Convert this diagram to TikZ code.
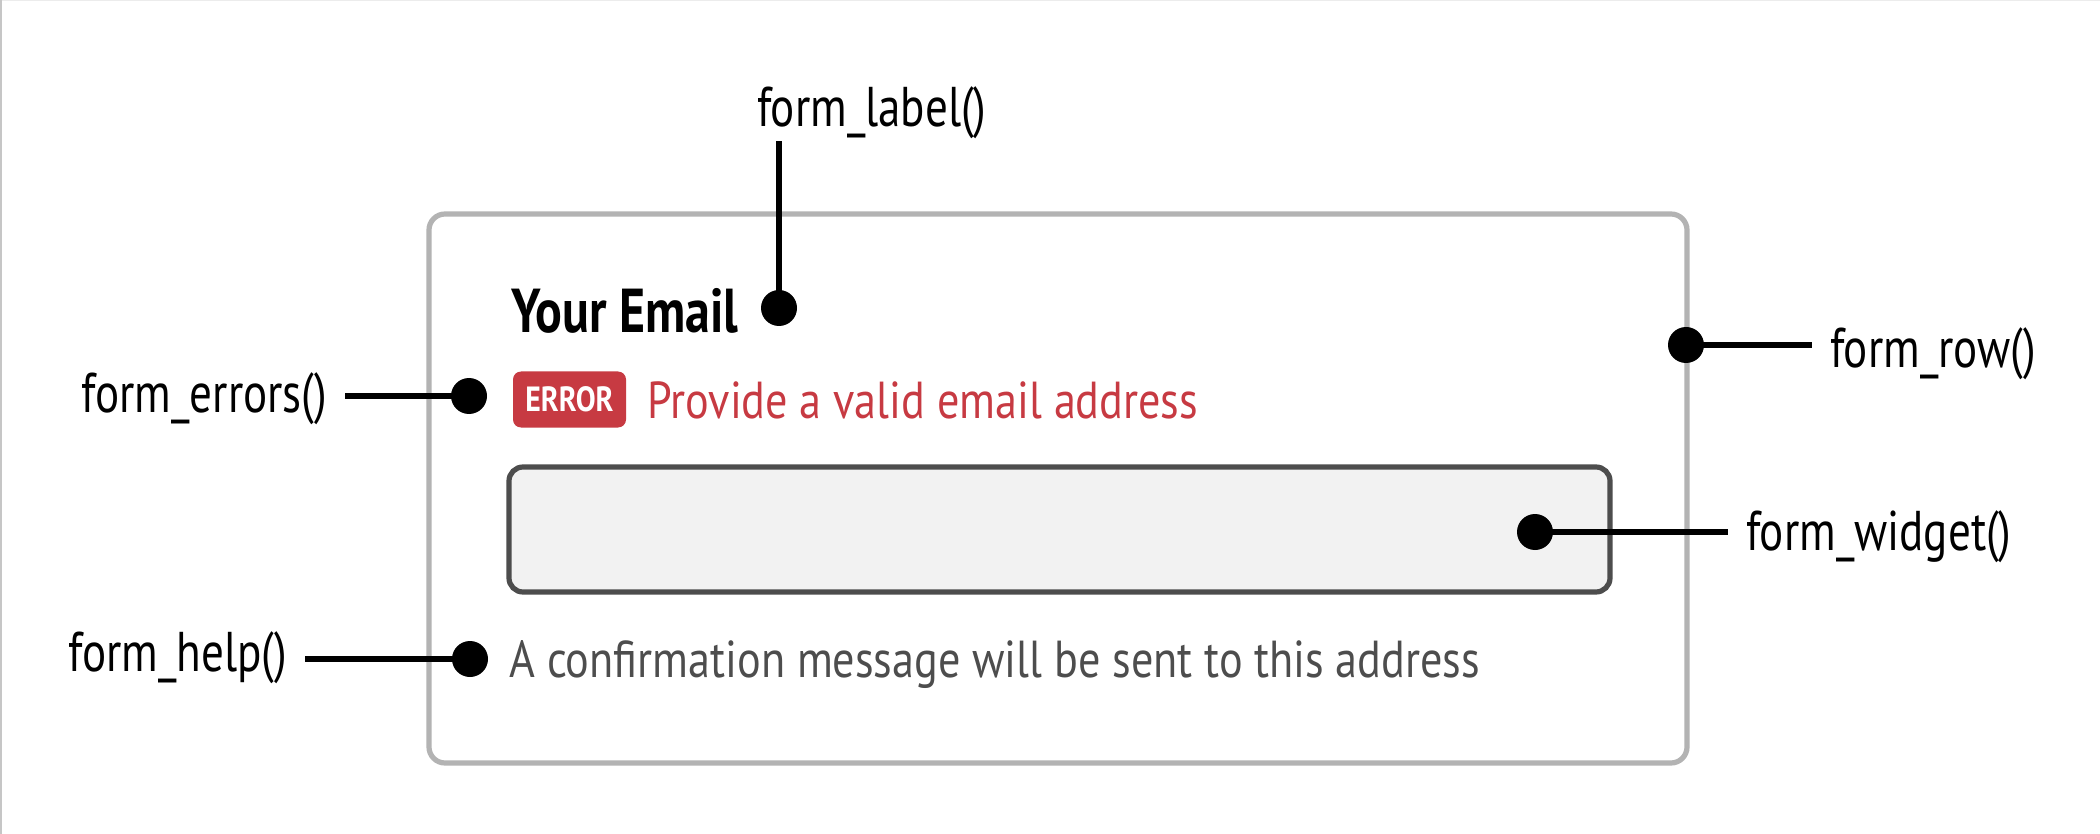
\documentclass[tikz,border=0pt]{standalone}
\usepackage{fontspec}
\setmainfont{PT Sans}[FakeStretch=0.805]
\newfontfamily\bodyfont{PT Sans}[FakeStretch=0.85]
\definecolor{boxgray}{HTML}{B3B3B3}
\definecolor{widgetedge}{HTML}{4D4D4D}
\definecolor{widgetfill}{HTML}{F2F2F2}
\definecolor{errred}{HTML}{C73A42}
\definecolor{helpgray}{HTML}{4D4D4D}
\begin{document}
\begin{tikzpicture}[x=0.5pt,y=-0.5pt,
  dotnode/.style={circle,fill=black,inner sep=0pt,minimum size=18pt},
  conn/.style={line width=2.7pt,black},
  apilabel/.style={font=\fontsize{28}{30}\selectfont,inner sep=0pt,outer xsep=9pt,outer ysep=1pt},
  formtext/.style={inner sep=0pt}]
\useasboundingbox (0,0) rectangle (2100,834);
\fill[white] (0,0) rectangle (2100,834);
\draw[gray!15,line width=1pt] (0,0.5) -- (2100,0.5);
\draw[gray!45,line width=1pt] (0.8,0) -- (0.8,834);
% outer row box
\draw[boxgray,line width=2.6pt,rounded corners=8pt] (429,214) rectangle (1687,763);
% widget box
\draw[widgetedge,fill=widgetfill,line width=2.6pt,rounded corners=7pt] (509,467) rectangle (1610,592);
% form texts
\node[formtext,anchor=base west,font=\bfseries\fontsize{31}{34}\selectfont] (yourmail) at (511,333) {Your Email};
\node[fill=errred,rounded corners=4pt,minimum width=56.5pt,minimum height=28pt,inner sep=0pt,text=white,font=\bodyfont\bfseries\fontsize{17.5}{19}\selectfont] (badge) at (569.5,399.5) {ERROR};
\node[formtext,anchor=base west,text=errred,font=\bodyfont\fontsize{26}{28}\selectfont] (errtext) at (647,418) {Provide a valid email address};
\node[formtext,anchor=base west,text=helpgray,font=\bodyfont\fontsize{26}{28}\selectfont] (helptext) at (509,677) {A confirmation message will be sent to this address};
% api labels
\node[apilabel,anchor=base west] (lablabel) at (739,127) {form\_label()};
\node[apilabel,anchor=base west] (rowlabel) at (1812,367) {form\_row()};
\node[apilabel,anchor=base east] (errlabel) at (345,413) {form\_errors()};
\node[apilabel,anchor=base west] (widlabel) at (1728,550) {form\_widget()};
\node[apilabel,anchor=base east] (helplabel) at (305,671) {form\_help()};
% dots
\node[dotnode] (labdot) at (779,308) {};
\node[dotnode] (rowdot) at (1686,345) {};
\node[dotnode] (errdot) at (469,396) {};
\node[dotnode] (widdot) at (1535,532) {};
\node[dotnode] (helpdot) at (470,659) {};
% connectors
\draw[conn] (labdot.center) -- (labdot.center |- lablabel.south);
\draw[conn] (rowdot.center) -- (rowdot.center -| rowlabel.west);
\draw[conn] (errdot.center) -- (errdot.center -| errlabel.east);
\draw[conn] (widdot.center) -- (widdot.center -| widlabel.west);
\draw[conn] (helpdot.center) -- (helpdot.center -| helplabel.east);
\end{tikzpicture}
\end{document}
